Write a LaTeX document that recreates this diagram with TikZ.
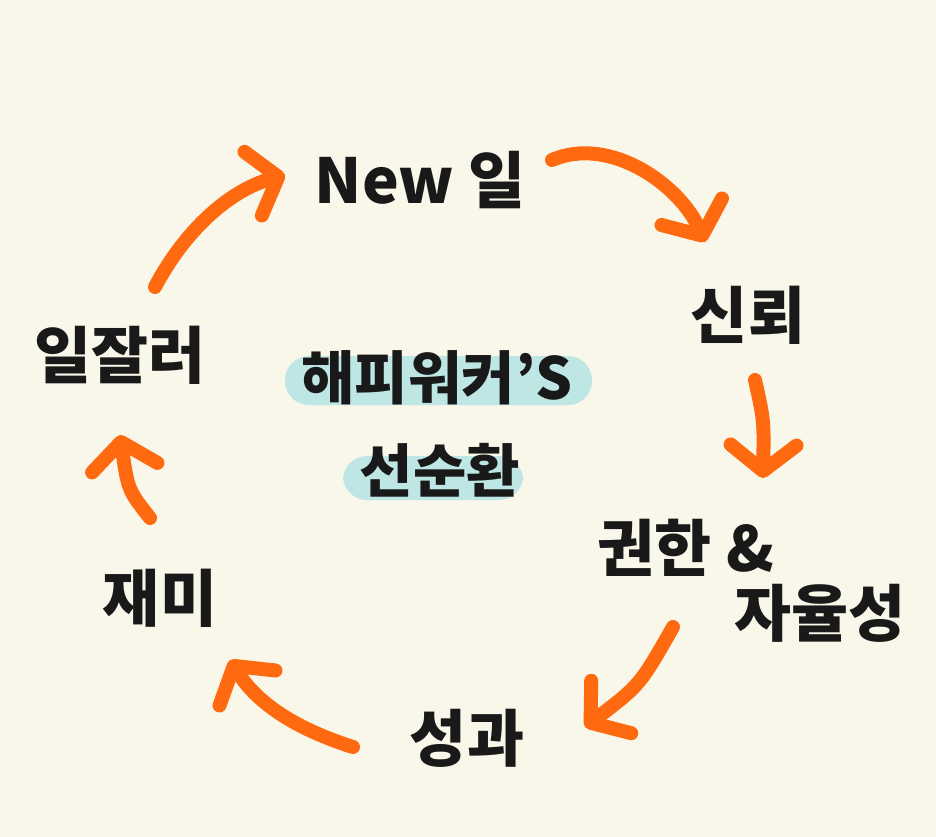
\documentclass[tikz,border=0pt]{standalone}
\usepackage{fontspec}
\newfontfamily\krfont{Noto Sans CJK KR}
\usetikzlibrary{arrows.meta}
\definecolor{paper}{HTML}{F9F6EA}
\definecolor{ringorange}{HTML}{FF6A10}
\definecolor{markercyan}{HTML}{BDE6E4}
\tikzset{
    label/.style={font=\krfont\bfseries\fontsize{62}{66}\selectfont, text=black!90},
    centre/.style={font=\krfont\bfseries\fontsize{58}{62}\selectfont, text=black!90},
    stroke/.style={draw=ringorange, line width=14pt, line cap=round, line join=round,
        -{Straight Barb[length=26pt, width=66pt, round]}},
    marker/.style={fill=markercyan, rounded corners=24pt}
}
\begin{document}
\begin{tikzpicture}[yscale=-1, x=1pt, y=1pt]
    % paper
    \fill [paper] (0, 0) rectangle (936, 837);
    \useasboundingbox (0, 0) rectangle (936, 837);
    % highlights behind the title
    \fill [marker] (285, 356) rectangle (592, 405);
    \fill [marker] (343, 456) rectangle (523, 500);
    % title
    \node [centre] (title) at (437, 378) {해피워커’S};
    \node [centre] (cycle) at (440, 470) {선순환};
    % steps of the loop
    \node [label] (newwork) at (420, 180) {New 일};
    \node [label] (trust) at (748, 315) {신뢰};
    \node [label] (power) at (686, 548) {권한 \&};
    \node [label] (freedom) at (820, 613) {자율성};
    \node [label] (result) at (467, 738) {성과};
    \node [label] (fun) at (160, 598) {재미};
    \node [label] (pro) at (120, 355) {일잘러};
    % arrow ends
    \coordinate (a1) at (552, 160);
    \coordinate (b1) at (705, 242);
    \coordinate (a2) at (755, 380);
    \coordinate (b2) at (763, 478);
    \coordinate (a3) at (673, 627);
    \coordinate (b3) at (585, 727);
    \coordinate (a4) at (353, 747);
    \coordinate (b4) at (230, 660);
    \coordinate (a5) at (150, 518);
    \coordinate (b5) at (120, 435);
    \coordinate (a6) at (155, 287);
    \coordinate (b6) at (285, 175);
    % arrows
    \draw [stroke] (a1) .. controls (610, 135) and (680, 185) .. (b1);
    \draw [stroke] (a2) .. controls (764, 420) .. (b2);
    \draw [stroke] (a3) .. controls (640, 685) .. (b3);
    \draw [stroke] (a4) .. controls (290, 727) and (255, 700) .. (b4);
    \draw [stroke] (a5) .. controls (128, 490) .. (b5);
    \draw [stroke] (a6) .. controls (185, 230) and (230, 190) .. (b6);
\end{tikzpicture}
\end{document}
